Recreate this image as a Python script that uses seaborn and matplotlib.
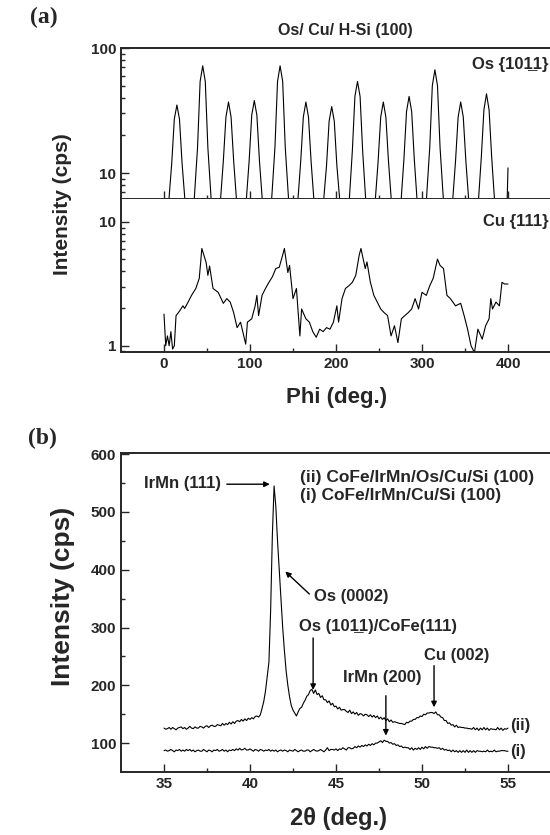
"""Phi scan (a) and 2theta XRD scan (b) for Os/Cu and CoFe/IrMn stacks."""
import numpy as np
import matplotlib
matplotlib.use("Agg")
import matplotlib.pyplot as plt
import seaborn as sns
from matplotlib.ticker import NullFormatter, FixedLocator

# ---- (a) phi scans ----
os_phi = np.append(np.arange(0, 400, 3), 400)
os_cps = [
    2.5, 3.2, 6.5, 12, 27, 35, 27, 12, 6.5, 3.2,
    2.5, 3.6, 7.5, 16, 54, 72, 54, 16, 7.5, 3.6,
    2.5, 3.2, 6.5, 12.5, 28, 37, 28, 12.5, 6.5, 3.2,
    2.5, 3.2, 6.5, 12.5, 29, 38, 29, 12.5, 6.5, 3.2,
    2.5, 3.6, 7.5, 16, 54, 72, 54, 16, 7.5, 3.6,
    2.5, 3.2, 6.5, 12.5, 28, 37, 28, 12.5, 6.5, 3.2,
    2.5, 3.2, 6.5, 11.5, 26, 34, 26, 11.5, 6.5, 3.2,
    2.5, 3.4, 7, 15, 41, 54, 41, 15, 7, 3.4,
    2.5, 3.2, 6.5, 12.5, 28, 37, 28, 12.5, 6.5, 3.2,
    2.5, 3.2, 6.5, 13, 31, 41, 31, 13, 6.5, 3.2,
    2.5, 3.6, 7.5, 16, 50, 67, 50, 16, 7.5, 3.6,
    2.5, 3.2, 6.5, 12.5, 28, 37, 28, 12.5, 6.5, 3.2,
    2.5, 3.2, 6.5, 13.5, 32, 43, 32, 13.5, 6.5, 3.2,
    2.5, 2.5, 3, 6, 11,
]

cu_phi = [0, 2, 4, 6, 8, 10, 12, 14, 18, 22, 24, 28, 32, 37, 41, 44, 49, 51, 53, 57,
          63, 69, 73, 77, 81, 85, 89, 95, 97, 102, 106, 108, 110, 114, 118, 122, 126,
          130, 134, 138, 140, 144, 146, 150, 154, 158, 160, 165, 169, 173, 177, 181,
          185, 189, 193, 197, 201, 203, 207, 211, 215, 219, 223, 227, 229, 234, 236,
          240, 244, 248, 252, 256, 260, 264, 268, 272, 276, 280, 284, 288, 292, 296,
          300, 305, 309, 313, 318, 321, 325, 329, 333, 339, 345, 349, 353, 357, 361,
          365, 370, 374, 378, 380, 382, 386, 390, 393, 396, 400]
cu_cps = [1.8, 1.0, 1.2, 1.0, 1.3, 0.94, 1.0, 1.75, 1.9, 2.1, 2.0, 2.25, 2.55, 2.9, 3.5,
          6.1, 4.7, 3.7, 4.4, 2.9, 2.7, 2.2, 2.4, 2.25, 1.85, 1.4, 1.55, 1.03, 1.55, 1.65,
          2.1, 2.55, 1.75, 2.55, 2.9, 3.25, 3.6, 4.2, 4.3, 5.4, 6.1, 3.9, 4.45, 2.4, 2.9,
          1.2, 1.98, 1.65, 1.55, 1.3, 1.17, 1.36, 1.3, 1.4, 1.36, 1.55, 2.1, 1.55, 2.4,
          2.9, 3.05, 3.25, 3.7, 5.4, 6.1, 4.2, 4.75, 3.25, 2.55, 2.25, 1.98, 1.85, 1.75,
          1.2, 1.45, 1.06, 1.65, 1.75, 1.85, 1.98, 2.4, 1.98, 2.7, 2.55, 3.05, 3.5, 5.0,
          4.45, 4.2, 2.55, 2.4, 2.1, 2.2, 1.75, 1.36, 1.0, 0.88, 1.36, 1.13, 1.45, 1.65,
          2.4, 1.98, 2.25, 2.1, 3.25, 3.15, 3.15]

# ---- (b) 2theta scans ----
two_theta = np.round(np.arange(35.0, 55.05, 0.1), 1)
cps_ii = [
    126, 124, 125, 127, 124, 127, 125, 123, 126, 127,
    128, 125, 127, 124, 126, 129, 126, 125, 128, 126,
    126, 129, 128, 126, 129, 130, 127, 130, 131, 129,
    129, 132, 131, 130, 134, 131, 134, 132, 136, 133,
    137, 134, 138, 139, 137, 141, 138, 142, 139, 143,
    141, 144, 142, 146, 147, 145, 149, 160, 172, 190,
    215, 240, 330, 460, 545, 510, 450, 400, 350, 300,
    260, 225, 200, 180, 165, 157, 152, 147, 154, 160,
    162, 169, 174, 181, 184, 191, 193, 186, 192, 184,
    186, 179, 182, 175, 175, 170, 173, 166, 169, 163,
    164, 159, 162, 157, 158, 158, 155, 153, 157, 151,
    154, 150, 153, 148, 151, 150, 147, 150, 149, 146,
    149, 145, 148, 144, 147, 142, 145, 141, 144, 139,
    142, 137, 140, 136, 137, 136, 135, 134, 134, 133,
    132, 136, 135, 138, 138, 141, 141, 144, 144, 147,
    146, 150, 149, 152, 152, 153, 153, 151, 154, 149,
    149, 145, 144, 139, 139, 134, 135, 131, 132, 128,
    131, 127, 128, 127, 127, 126, 126, 125, 125, 124,
    127, 123, 126, 122, 126, 123, 127, 123, 126, 122,
    125, 124, 124, 123, 127, 123, 126, 122, 125, 124,
    126,
]
cps_i = [
    87, 88, 86, 87, 89, 87, 85, 88, 87, 89,
    86, 88, 86, 89, 87, 89, 86, 88, 85, 87,
    88, 86, 86, 89, 87, 85, 88, 87, 85, 88,
    87, 89, 86, 87, 89, 86, 88, 85, 88, 87,
    89, 87, 90, 88, 91, 88, 89, 91, 88, 88,
    90, 88, 86, 89, 88, 86, 89, 88, 86, 88,
    87, 89, 86, 88, 86, 88, 85, 87, 88, 86,
    88, 87, 85, 88, 87, 86, 89, 87, 85, 87,
    88, 86, 86, 88, 88, 85, 87, 89, 87, 86,
    87, 89, 87, 85, 88, 92, 87, 89, 89, 88,
    90, 87, 90, 89, 92, 90, 88, 92, 92, 90,
    91, 94, 92, 95, 93, 96, 94, 97, 95, 98,
    96, 99, 97, 100, 100, 102, 104, 101, 105, 103,
    103, 100, 101, 98, 99, 96, 97, 94, 95, 92,
    93, 92, 92, 89, 92, 88, 91, 89, 92, 89,
    93, 90, 94, 91, 94, 93, 93, 92, 92, 91,
    92, 89, 91, 88, 89, 87, 88, 85, 88, 85,
    87, 84, 87, 84, 87, 84, 88, 84, 87, 84,
    87, 84, 87, 86, 86, 85, 86, 85, 88, 85,
    86, 85, 88, 85, 86, 86, 87, 87, 87, 86,
    86,
]

sns.set_style("ticks")
plt.rcParams["font.family"] = ["Liberation Sans", "DejaVu Sans"]
plt.rcParams["font.weight"] = "bold"
plt.rcParams["axes.linewidth"] = 1.4

W, H = 550, 835
fig = plt.figure(figsize=(W / 100, H / 100), dpi=100)


def box(l, t, r, b):
    return [l / W, 1 - b / H, (r - l) / W, (b - t) / H]


def style(ax):
    ax.spines["right"].set_visible(False)
    ax.tick_params(which="both", direction="in", top=False, right=False,
                   labelsize=11, width=1)
    ax.tick_params(which="major", length=6)
    ax.tick_params(which="minor", length=3)
    for lab in ax.get_xticklabels() + ax.get_yticklabels():
        lab.set_fontweight("bold")


ax_os = fig.add_axes(box(121, 48, 551, 199))
ax_cu = fig.add_axes(box(121, 199, 551, 352))
ax_b = fig.add_axes(box(121, 453, 551, 772))

line_kw = dict(color="k", lw=0.8, estimator=None, sort=False, legend=False)

# (a) upper: Os {10-11}
sns.lineplot(x=os_phi, y=os_cps, ax=ax_os, **line_kw)
ax_os.set_yscale("log")
ax_os.set_ylim(6.2, 100)
ax_os.set_xlim(-50, 450)
ax_os.set_yticks([10, 100], ["10", "100"])
ax_os.yaxis.set_minor_formatter(NullFormatter())
ax_os.set_xticks([0, 100, 200, 300, 400], [])
ax_os.xaxis.set_minor_locator(FixedLocator([50, 150, 250, 350]))
ax_os.set_xlabel("")
ax_os.set_ylabel("")
style(ax_os)
ax_os.text(0.995, 0.89, "Os {101\u03321}", transform=ax_os.transAxes,
           ha="right", va="center", fontsize=12, fontweight="bold")

# (a) lower: Cu {111}
sns.lineplot(x=cu_phi, y=cu_cps, ax=ax_cu, **line_kw)
ax_cu.set_yscale("log")
ax_cu.set_ylim(0.89, 15.3)
ax_cu.set_xlim(-50, 450)
ax_cu.set_yticks([1, 10], ["1", "10"])
ax_cu.yaxis.set_minor_formatter(NullFormatter())
ax_cu.set_xticks([0, 100, 200, 300, 400], ["0", "100", "200", "300", "400"])
ax_cu.xaxis.set_minor_locator(FixedLocator([50, 150, 250, 350]))
ax_cu.spines["top"].set_visible(False)
ax_cu.set_xlabel("")
ax_cu.set_ylabel("")
style(ax_cu)
ax_cu.text(0.995, 10, "Cu {111}", transform=ax_cu.get_yaxis_transform(),
           ha="right", va="center", fontsize=12, fontweight="bold")

# (b) 2theta
sns.lineplot(x=two_theta, y=cps_ii, ax=ax_b, **line_kw)
sns.lineplot(x=two_theta, y=cps_i, ax=ax_b, **line_kw)
ax_b.set_xlim(32.5, 57.5)
ax_b.set_ylim(50, 602)
ax_b.set_xticks([35, 40, 45, 50, 55], ["35", "40", "45", "50", "55"])
ax_b.xaxis.set_minor_locator(FixedLocator([37.5, 42.5, 47.5, 52.5]))
ax_b.set_yticks([100, 200, 300, 400, 500, 600])
ax_b.yaxis.set_minor_locator(FixedLocator([150, 250, 350, 450, 550]))
ax_b.set_xlabel("")
ax_b.set_ylabel("")
style(ax_b)

txt = dict(fontsize=12, fontweight="bold")
arr = dict(arrowstyle="-|>", color="k", lw=1, mutation_scale=8, shrinkA=0, shrinkB=0)
ax_b.text(42.9, 559, "(ii) CoFe/IrMn/Os/Cu/Si (100)", ha="left", va="center",
          fontsize=12.5, fontweight="bold")
ax_b.text(42.9, 529, "(i) CoFe/IrMn/Cu/Si (100)", ha="left", va="center",
          fontsize=12.5, fontweight="bold")
ax_b.text(36.1, 550, "IrMn (111)", ha="center", va="center", **txt)
ax_b.annotate("", xy=(41.15, 548), xytext=(38.65, 548), arrowprops=arr)
ax_b.text(43.7, 354, "Os (0002)", ha="left", va="center", **txt)
ax_b.annotate("", xy=(42.05, 397), xytext=(43.45, 358), arrowprops=arr)
ax_b.text(47.45, 302, "Os (101\u03321)/CoFe(111)", ha="center", va="center", **txt)
ax_b.annotate("", xy=(43.67, 192), xytext=(43.67, 282), arrowprops=arr)
ax_b.text(47.7, 214, "IrMn (200)", ha="center", va="center", **txt)
ax_b.annotate("", xy=(47.9, 113), xytext=(47.9, 182), arrowprops=arr)
ax_b.text(52.0, 251, "Cu (002)", ha="center", va="center", **txt)
ax_b.annotate("", xy=(50.7, 162), xytext=(50.7, 234), arrowprops=arr)
ax_b.text(55.15, 130, "(ii)", ha="left", va="center", **txt)
ax_b.text(55.15, 86, "(i)", ha="left", va="center", **txt)

# figure-level labels
fig.text(44 / W, 1 - 17 / H, "(a)", family="Liberation Serif", fontsize=17,
         fontweight="bold", ha="center", va="center")
fig.text(42 / W, 1 - 438 / H, "(b)", family="Liberation Serif", fontsize=17,
         fontweight="bold", ha="center", va="center")
fig.text(345 / W, 1 - 30 / H, "Os/ Cu/ H-Si (100)", fontsize=11.5,
         fontweight="bold", ha="center", va="center")
fig.text(63 / W, 1 - 204 / H, "Intensity (cps)", rotation=90, fontsize=15,
         fontweight="bold", ha="center", va="center")
fig.text(337 / W, 1 - 398 / H, "Phi (deg.)", fontsize=16, fontweight="bold",
         ha="center", va="center")
fig.text(63 / W, 1 - 596 / H, "Intensity (cps)", rotation=90, fontsize=19,
         fontweight="bold", ha="center", va="center")
fig.text(338 / W, 1 - 818 / H, "2\u03b8 (deg.)", fontsize=17, fontweight="bold",
         ha="center", va="center")

fig.savefig("out.png", dpi=100)
plt.close(fig)
